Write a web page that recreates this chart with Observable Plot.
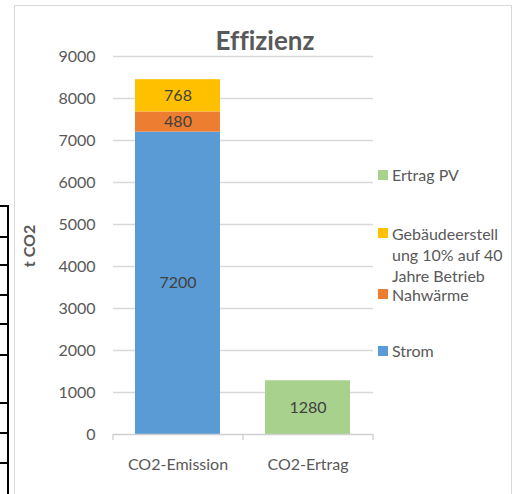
<!DOCTYPE html>
<html>
<head>
<meta charset="utf-8">
<script src="https://cdn.jsdelivr.net/npm/d3@7"></script>
<script src="https://cdn.jsdelivr.net/npm/@observablehq/plot@0.6"></script>
<style>
  html, body { margin: 0; padding: 0; background: #fff; }
  body { width: 517px; height: 494px; overflow: hidden; position: relative; font-family: Lato, "Open Sans", sans-serif; font-variant-ligatures: none; }
  #frame { position: absolute; left: 14px; top: 5px; width: 498px; height: 520px; border: 1.5px solid #D9D9D9; box-sizing: border-box; }
  #chart { position: absolute; left: 0; top: 0; }
  #title { position: absolute; left: 165px; width: 200px; top: 25px; text-align: center; font-weight: bold; font-size: 26px; color: #595959; line-height: 30px; font-variant-ligatures: none; }
  #ylabel { position: absolute; left: 28px; top: 246px; transform: translate(-50%, -50%) rotate(-90deg); font-weight: bold; font-size: 16px; color: #595959; white-space: nowrap; }
  #legend { position: absolute; left: 378px; top: 0; }
  .item { position: absolute; left: 0; font-size: 16px; color: #595959; line-height: 21px; }
  .sw { position: absolute; left: 0; top: 5.5px; width: 10px; height: 10px; }
  .lt { position: absolute; left: 14px; top: 0; white-space: nowrap; }
  .tbl { position: absolute; left: 0; width: 7px; border-top: 2px solid #000; border-right: 2px solid #000; }
</style>
</head>
<body>
<div id="frame"></div>
<div id="tableFrag"></div>
<div id="chart"></div>
<div id="title">Effizienz</div>
<div id="ylabel">t CO2</div>
<div id="legend"></div>
<script>
// ---- data ----
const categories = ["CO2-Emission", "CO2-Ertrag"];
const seriesNames = ["Strom", "Nahwärme", "Gebäudeerstellung 10% auf 40 Jahre Betrieb", "Ertrag PV"];
const seriesColors = ["#5B9BD5", "#ED7D31", "#FFC000", "#A9D18E"];
const strom = [7200, 0];
const nahwaerme = [480, 0];
const gebaeude = [768, 0];
const ertragPV = [0, 1280];
const yTicks = [0, 1000, 2000, 3000, 4000, 5000, 6000, 7000, 8000, 9000];
const legendOrder = ["Ertrag PV", "Gebäudeerstellung 10% auf 40 Jahre Betrieb", "Nahwärme", "Strom"];
const legendLines = [["Ertrag PV"], ["Gebäudeerstell", "ung 10% auf 40", "Jahre Betrieb"], ["Nahwärme"], ["Strom"]];

// ---- build table ----
const seriesValues = [strom, nahwaerme, gebaeude, ertragPV];
const rows = [];
seriesNames.forEach((s, si) => {
  categories.forEach((c, ci) => {
    const v = seriesValues[si][ci];
    if (v > 0) rows.push({category: c, series: s, value: v});
  });
});

const plot = Plot.plot({
  width: 517,
  height: 494,
  marginLeft: 113,
  marginRight: 144,
  marginTop: 56,
  marginBottom: 60,
  style: {fontFamily: "Lato, 'Open Sans', sans-serif", fontSize: "16px", color: "#595959", background: "transparent", overflow: "visible"},
  x: {domain: categories, paddingInner: 0.346, paddingOuter: 0.173, tickSize: 0, tickPadding: 24, label: null},
  y: {domain: [0, 9000], ticks: yTicks, tickSize: 0, tickPadding: 18, label: null, tickFormat: d => String(d)},
  color: {domain: seriesNames, range: seriesColors},
  marks: [
    Plot.ruleY(yTicks.filter(d => d > 0), {stroke: "#D9D9D9", strokeWidth: 1.3}),
    Plot.barY(rows, {x: "category", y: "value", fill: "series", order: seriesNames}),
    Plot.text(rows, Plot.stackY({x: "category", y: "value", z: "series", order: seriesNames, text: d => String(d.value), fill: "#404040", fontSize: 16})),
    Plot.ruleY([0], {stroke: "#D0D0D0", strokeWidth: 1.3}),
    Plot.ruleX(categories, {x: d => d, y1: 0, y2: 0, insetBottom: -6, dx: -65, stroke: "#D0D0D0", strokeWidth: 1.3}),
    Plot.ruleX(categories.slice(-1), {x: d => d, y1: 0, y2: 0, insetBottom: -6, dx: 65, stroke: "#D0D0D0", strokeWidth: 1.3})
  ]
});
document.getElementById("chart").appendChild(plot);

// ---- legend (first-line centres of each entry, in px) ----
const legendCenters = [174.5, 233, 294, 350.5];
const legend = document.getElementById("legend");
legendOrder.forEach((name, i) => {
  const item = document.createElement("div");
  item.className = "item";
  item.style.top = (legendCenters[i] - 10.5) + "px";
  const sw = document.createElement("div");
  sw.className = "sw";
  sw.style.background = seriesColors[seriesNames.indexOf(name)];
  const lt = document.createElement("div");
  lt.className = "lt";
  lt.innerHTML = legendLines[i].join("<br>");
  item.appendChild(sw);
  item.appendChild(lt);
  legend.appendChild(item);
});

// ---- cropped background table fragment on the left ----
const tableLineY = [205, 236, 264, 294, 323, 354, 402, 432, 462];
const frag = document.getElementById("tableFrag");
tableLineY.forEach((y, i) => {
  const d = document.createElement("div");
  d.className = "tbl";
  d.style.top = y + "px";
  const next = i < tableLineY.length - 1 ? tableLineY[i + 1] : 500;
  d.style.height = (next - y) + "px";
  frag.appendChild(d);
});
</script>
</body>
</html>
